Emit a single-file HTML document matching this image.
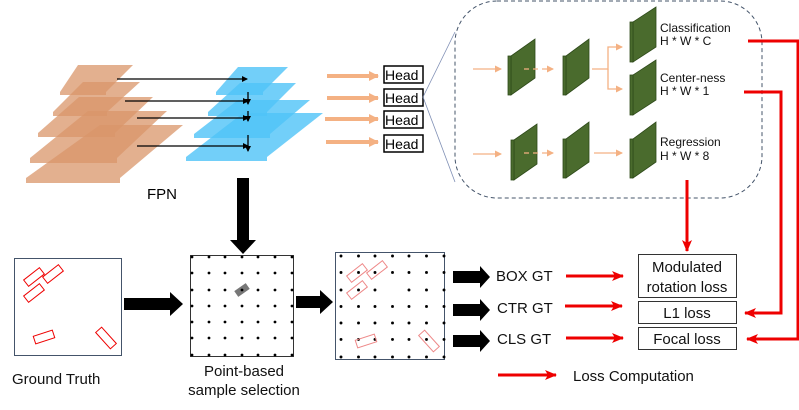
<!DOCTYPE html>
<html><head><meta charset="utf-8"><style>
html,body{margin:0;padding:0;background:#fff;}
svg{display:block;}
text{font-family:"Liberation Sans","DejaVu Sans",sans-serif;}
</style></head><body>
<svg width="799" height="410" viewBox="0 0 799 410" xmlns="http://www.w3.org/2000/svg">
<defs>
<marker id="bk" markerWidth="6" markerHeight="6" refX="5" refY="3" orient="auto" markerUnits="userSpaceOnUse"><path d="M0,0 L6,3 L0,6 z" fill="#000"/></marker>
<marker id="rd" markerWidth="12" markerHeight="10" refX="11" refY="5" orient="auto" markerUnits="userSpaceOnUse"><path d="M0,0 L12,5 L0,10 L3,5 z" fill="#e00"/></marker>
<marker id="or" markerWidth="10" markerHeight="10" refX="9" refY="5" orient="auto" markerUnits="userSpaceOnUse"><path d="M0,0 L10,5 L0,10 z" fill="#f4b183"/></marker>
<marker id="or2" markerWidth="7" markerHeight="7" refX="6" refY="3.5" orient="auto" markerUnits="userSpaceOnUse"><path d="M0,0 L7,3.5 L0,7 z" fill="#f4b183"/></marker>
</defs>

<!-- FPN orange layers -->
<g fill="#d9956a" fill-opacity="0.75" stroke="none">
<path d="M78,65 L133,65 L106,92 L60,92 Z"/><rect x="60" y="92" width="46" height="3"/>
<path d="M83,82 L140,82 L107,112 L53,112 Z"/><rect x="53" y="112" width="54" height="4"/>
<path d="M79,97 L153,97 L115,133 L38,133 Z"/><rect x="38" y="133" width="77" height="4"/>
<path d="M88,111 L167,111 L117,158 L30,158 Z"/><rect x="30" y="158" width="87" height="5"/>
<path d="M100,125 L183,125 L120,178 L26,178 Z"/><rect x="26" y="178" width="94" height="5"/>
</g>
<!-- blue layers -->
<g fill="#4fc3f7" fill-opacity="0.8">
<path d="M238,67 L288,67 L263,92 L216,92 Z"/><rect x="216" y="92" width="47" height="3"/>
<path d="M240,83 L296,83 L267,112 L208,112 Z"/><rect x="208" y="112" width="59" height="4"/>
<path d="M238,100 L310,100 L270,134 L194,134 Z"/><rect x="194" y="134" width="76" height="4"/>
<path d="M243,113 L323,113 L267,157 L186,157 Z"/><rect x="186" y="157" width="81" height="4"/>
</g>
<g stroke="#000" stroke-width="1.3">
<line x1="117" y1="79" x2="247" y2="79" marker-end="url(#bk)"/>
<line x1="125" y1="101" x2="248" y2="101" marker-end="url(#bk)"/>
<line x1="137" y1="118" x2="248" y2="118" marker-end="url(#bk)"/>
<line x1="137" y1="146" x2="248" y2="146" marker-end="url(#bk)"/>
<line x1="248" y1="92" x2="248" y2="104" marker-end="url(#bk)"/>
<line x1="248" y1="111" x2="248" y2="121" marker-end="url(#bk)"/>
<line x1="248" y1="135" x2="248" y2="151" marker-end="url(#bk)"/>
</g>
<text x="147" y="199" font-size="15">FPN</text>

<!-- Heads -->
<g stroke="#f4b183" stroke-width="4">
<line x1="327" y1="76" x2="378" y2="76" marker-end="url(#or)"/>
<line x1="327" y1="98" x2="378" y2="98" marker-end="url(#or)"/>
<line x1="325" y1="119" x2="378" y2="119" marker-end="url(#or)"/>
<line x1="326" y1="142" x2="378" y2="142" marker-end="url(#or)"/>
</g>
<g fill="#fff" stroke="#000" stroke-width="1.5">
<rect x="384" y="66" width="39" height="17"/>
<rect x="384" y="89" width="39" height="17"/>
<rect x="384" y="111" width="39" height="17"/>
<rect x="384" y="135" width="39" height="17"/>
</g>
<g font-size="14">
<text x="385" y="80">Head</text><text x="385" y="103">Head</text>
<text x="385" y="125">Head</text><text x="385" y="149">Head</text>
</g>
<line x1="423" y1="97" x2="455" y2="32" stroke="#7f8fb5" stroke-width="0.8"/>
<line x1="423" y1="97" x2="455" y2="182" stroke="#7f8fb5" stroke-width="0.8"/>
<rect x="455" y="1" width="307" height="197" rx="42" fill="none" stroke="#44546a" stroke-width="1" stroke-dasharray="4,3"/>

<!-- green plates -->
<g fill="#4a6b2d" stroke="#2e4a1a" stroke-width="0.8">
<path d="M511,56 L535,39 L535,78 L511,95 Z"/><rect x="508" y="56" width="3" height="39"/>
<path d="M566,56 L589,39 L589,78 L566,95 Z"/><rect x="563" y="56" width="3" height="39"/>
<path d="M633,22 L656,7 L656,47 L633,62 Z"/><rect x="630" y="22" width="3" height="40"/>
<path d="M633,75 L656,60 L656,100 L633,115 Z"/><rect x="630" y="75" width="3" height="40"/>
<path d="M514,140 L537,124 L537,164 L514,180 Z"/><rect x="511" y="140" width="3" height="40"/>
<path d="M566,139 L589,122 L589,162 L566,178 Z"/><rect x="563" y="139" width="3" height="39"/>
<path d="M633,139 L656,122 L656,162 L633,178 Z"/><rect x="630" y="139" width="3" height="39"/>
</g>
<g stroke="#f4b183" stroke-width="1.3" fill="none">
<line x1="473" y1="69" x2="501" y2="69" marker-end="url(#or2)"/>
<line x1="524" y1="69" x2="553" y2="69" stroke-dasharray="5,4" marker-end="url(#or2)"/>
<path d="M592,69 L608,69 L608,47 L622,47" marker-end="url(#or2)"/>
<path d="M608,69 L608,89 L622,89" marker-end="url(#or2)"/>
<line x1="473" y1="154" x2="501" y2="154" marker-end="url(#or2)"/>
<line x1="524" y1="153" x2="553" y2="153" stroke-dasharray="5,4" marker-end="url(#or2)"/>
<line x1="594" y1="153" x2="622" y2="153" marker-end="url(#or2)"/>
</g>
<g font-size="12" fill="#111">
<text x="660" y="32">Classification</text><text x="660" y="45">H * W * C</text>
<text x="660" y="82">Center-ness</text><text x="660" y="95">H * W * 1</text>
<text x="660" y="146">Regression</text><text x="660" y="160">H * W * 8</text>
</g>

<!-- red connectors -->
<g stroke="#e00" stroke-width="3" fill="none">
<path d="M748,41 L798,41 L798,339 L747,339" marker-end="url(#rd)"/>
<path d="M744,92 L781,92 L781,313 L745,313" marker-end="url(#rd)"/>
<line x1="687" y1="180" x2="687" y2="251" marker-end="url(#rd)"/>
<line x1="566" y1="276" x2="623" y2="276" marker-end="url(#rd)"/>
<line x1="565" y1="306" x2="622" y2="306" marker-end="url(#rd)"/>
<line x1="566" y1="338" x2="623" y2="338" marker-end="url(#rd)"/>
<line x1="498" y1="375" x2="556" y2="375" marker-end="url(#rd)"/>
</g>
<g fill="#fff" stroke="#333" stroke-width="1">
<rect x="638.5" y="254.5" width="98" height="43"/>
<rect x="638.5" y="301.5" width="98" height="22"/>
<rect x="638.5" y="327.5" width="98" height="22"/>
</g>
<g font-size="15" fill="#111" text-anchor="middle">
<text x="687" y="272">Modulated</text><text x="687" y="292">rotation loss</text>
<text x="687" y="318">L1 loss</text><text x="687" y="344">Focal loss</text>
</g>
<g font-size="15" fill="#111">
<text x="496" y="281">BOX GT</text><text x="497" y="313">CTR GT</text><text x="497" y="344">CLS GT</text>
<text x="573" y="381">Loss Computation</text>
</g>
<g fill="#000">
<path d="M453,271 L480,271 L480,266 L490,277 L480,288 L480,283 L453,283 Z"/>
<path d="M453,304 L480,304 L480,299 L490,310 L480,321 L480,316 L453,316 Z"/>
<path d="M453,335 L480,335 L480,330 L490,341 L480,352 L480,347 L453,347 Z"/>
<path d="M124,298 L170,298 L170,292 L183,304 L170,316 L170,310 L124,310 Z"/>
<path d="M296,296 L320,296 L320,290 L333,302 L320,314 L320,308 L296,308 Z"/>
<path d="M237,178 L249,178 L249,240 L256,240 L243,254 L230,240 L237,240 Z"/>
</g>

<!-- Ground truth -->
<rect x="14.5" y="258.5" width="107" height="97" fill="none" stroke="#44546a" stroke-width="1"/>
<g fill="none" stroke="#e00" stroke-width="1">
<rect x="-10" y="-4" width="20" height="8" transform="translate(34,277) rotate(-38)"/>
<rect x="-10" y="-4" width="20" height="8" transform="translate(53,274) rotate(-38)"/>
<rect x="-10" y="-4" width="20" height="8" transform="translate(34,293) rotate(-38)"/>
<rect x="-10" y="-4" width="20" height="8" transform="translate(44,337) rotate(-18)"/>
<rect x="-11" y="-4" width="22" height="8" transform="translate(106,338) rotate(48)"/>
</g>
<text x="12" y="384" font-size="15" fill="#111">Ground Truth</text>

<!-- sample selection -->
<rect x="190.5" y="255.5" width="103" height="101" fill="none" stroke="#333" stroke-width="1"/>
<g fill="#000" id="dots1">
<circle cx="192" cy="257" r="1.4"/><circle cx="209" cy="257" r="1.4"/><circle cx="225" cy="257" r="1.4"/><circle cx="242" cy="257" r="1.4"/><circle cx="258" cy="257" r="1.4"/><circle cx="275" cy="257" r="1.4"/><circle cx="292" cy="257" r="1.4"/>
<circle cx="192" cy="273" r="1.4"/><circle cx="209" cy="273" r="1.4"/><circle cx="225" cy="273" r="1.4"/><circle cx="242" cy="273" r="1.4"/><circle cx="258" cy="273" r="1.4"/><circle cx="275" cy="273" r="1.4"/><circle cx="292" cy="273" r="1.4"/>
<circle cx="192" cy="290" r="1.4"/><circle cx="209" cy="290" r="1.4"/><circle cx="225" cy="290" r="1.4"/><circle cx="258" cy="290" r="1.4"/><circle cx="275" cy="290" r="1.4"/><circle cx="292" cy="290" r="1.4"/>
<circle cx="192" cy="306" r="1.4"/><circle cx="209" cy="306" r="1.4"/><circle cx="225" cy="306" r="1.4"/><circle cx="242" cy="306" r="1.4"/><circle cx="258" cy="306" r="1.4"/><circle cx="275" cy="306" r="1.4"/><circle cx="292" cy="306" r="1.4"/>
<circle cx="192" cy="322" r="1.4"/><circle cx="209" cy="322" r="1.4"/><circle cx="225" cy="322" r="1.4"/><circle cx="242" cy="322" r="1.4"/><circle cx="258" cy="322" r="1.4"/><circle cx="275" cy="322" r="1.4"/><circle cx="292" cy="322" r="1.4"/>
<circle cx="192" cy="338" r="1.4"/><circle cx="209" cy="338" r="1.4"/><circle cx="225" cy="338" r="1.4"/><circle cx="242" cy="338" r="1.4"/><circle cx="258" cy="338" r="1.4"/><circle cx="275" cy="338" r="1.4"/><circle cx="292" cy="338" r="1.4"/>
<circle cx="192" cy="355" r="1.4"/><circle cx="209" cy="355" r="1.4"/><circle cx="225" cy="355" r="1.4"/><circle cx="242" cy="355" r="1.4"/><circle cx="258" cy="355" r="1.4"/><circle cx="275" cy="355" r="1.4"/><circle cx="292" cy="355" r="1.4"/>
</g>
<rect x="-7" y="-3.5" width="14" height="7" fill="#777" transform="translate(242,290) rotate(-35)"/>
<circle cx="242" cy="290" r="1.4" fill="#000"/>
<g font-size="15" fill="#111" text-anchor="middle">
<text x="244" y="376">Point-based</text><text x="244" y="395">sample selection</text>
</g>

<!-- third box -->
<rect x="335.5" y="252.5" width="109" height="107" fill="none" stroke="#44546a" stroke-width="1"/>
<g fill="#000" transform="translate(341,256) scale(1.03,1.03)">
<use href="#dots1" transform="translate(-192,-257)"/>
</g>
<g fill="none" stroke="#e88" stroke-width="1">
<rect x="-10" y="-4" width="20" height="8" transform="translate(357,273) rotate(-38)"/>
<rect x="-10" y="-4" width="20" height="8" transform="translate(377,270) rotate(-38)"/>
<rect x="-10" y="-4" width="20" height="8" transform="translate(357,290) rotate(-38)"/>
<rect x="-10" y="-4" width="20" height="8" transform="translate(366,341) rotate(-18)"/>
<rect x="-11" y="-4" width="22" height="8" transform="translate(429,341) rotate(48)"/>
</g>
</svg>
</body></html>
